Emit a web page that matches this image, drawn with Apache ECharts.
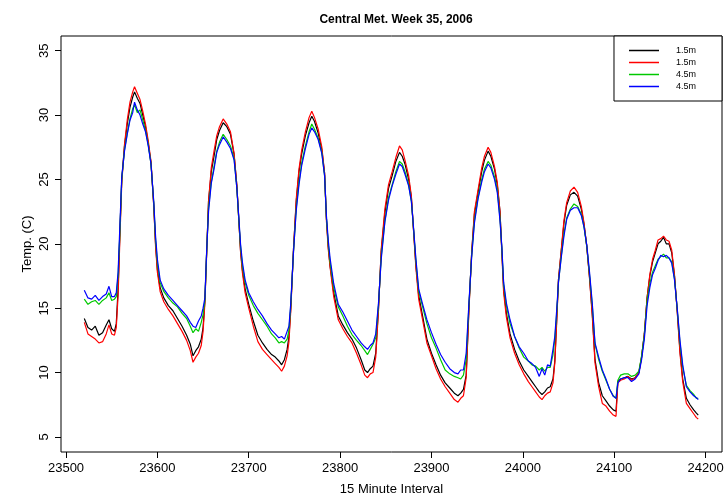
<!DOCTYPE html>
<html>
<head>
<meta charset="utf-8">
<script src="https://cdn.jsdelivr.net/npm/echarts@6/dist/echarts.min.js"></script>
<style>
  html, body { margin: 0; padding: 0; background: #fff; }
  #main { width: 727px; height: 498px; }
</style>
</head>
<body>
<div id="main"></div>
<script>
// 15 minute interval index (x)
var intervals = [
  23520, 23524, 23528, 23532, 23536, 23540, 23544, 23547, 23550, 23553, 23555, 23557, 23559, 23561, 23564, 23567, 23570, 23573, 23575, 23578,
  23581, 23584, 23587, 23590, 23593, 23596, 23598, 23600, 23603, 23607, 23612, 23617, 23622, 23627, 23632, 23636, 23639, 23642, 23645, 23648, 23650,
  23652, 23654, 23656, 23659, 23662, 23665, 23668, 23672, 23676, 23680, 23684, 23687, 23689, 23691, 23693, 23696, 23700, 23705, 23710, 23715,
  23720, 23725, 23729, 23733, 23736, 23739, 23742, 23744,
  23746, 23749, 23752, 23755, 23758, 23762, 23766, 23769, 23772, 23776, 23780, 23783, 23785, 23787, 23789, 23793, 23798, 23803, 23808, 23813,
  23818, 23823, 23827, 23830, 23833, 23836, 23839,
  23842, 23845, 23849, 23853, 23857, 23861, 23865, 23868, 23871, 23875, 23878, 23880, 23883, 23886, 23890, 23895, 23900, 23905, 23910, 23915,
  23920, 23925, 23929, 23932, 23935, 23938,
  23941, 23944, 23947, 23951, 23955, 23958, 23962, 23965, 23969, 23972, 23975, 23977, 23979, 23982, 23986, 23991, 23996, 24001, 24006, 24010,
  24014, 24018, 24021, 24024, 24027, 24030, 24033, 24035,
  24037, 24039, 24042, 24045, 24048, 24052, 24056, 24060, 24064, 24067, 24070, 24073, 24076, 24079, 24083, 24087, 24091, 24095, 24099, 24102,
  24104, 24107,
  24111, 24115, 24119, 24123, 24127, 24130, 24133, 24136, 24139, 24142, 24145, 24148, 24151, 24154, 24157, 24160, 24163, 24166, 24169, 24172,
  24175, 24179, 24183, 24187, 24190, 24192
];

// 1.5m (black)
var temp15a = [
  14.2, 13.5, 13.3, 13.6, 12.9, 13.1, 13.7, 14.1, 13.4, 13.2, 13.8, 16.5, 21.0, 25.0, 27.6, 29.3, 30.6, 31.4, 31.8, 31.3,
  30.9, 30.0, 29.1, 27.8, 26.3, 23.0, 20.0, 18.0, 16.6, 15.8, 15.2, 14.8, 14.2, 13.6, 12.9, 12.2, 11.3, 11.7, 12.0, 12.6, 13.5,
  15.6, 19.5, 23.3, 25.6, 26.8, 28.1, 28.8, 29.4, 29.1, 28.5, 26.9, 24.5, 22.0, 19.5, 18.0, 16.5, 15.3, 14.0, 12.9, 12.3,
  11.8, 11.4, 11.2, 10.9, 10.6, 11.0, 11.8, 12.8,
  15.0, 19.6, 23.3, 25.6, 27.0, 28.4, 29.4, 29.9, 29.5, 28.6, 27.3, 25.5, 22.0, 19.8, 18.3, 16.2, 14.4, 13.7, 13.1, 12.6,
  11.9, 11.0, 10.2, 10.0, 10.3, 10.5, 11.5,
  15.0, 19.4, 22.4, 24.3, 25.3, 26.4, 27.1, 26.8, 26.2, 25.0, 23.6, 21.5, 18.3, 16.0, 14.5, 12.6, 11.5, 10.6, 9.8, 9.2,
  8.8, 8.4, 8.2, 8.4, 8.7, 9.8,
  15.0, 19.3, 22.3, 24.0, 25.6, 26.5, 27.2, 26.8, 25.8, 24.6, 22.5, 19.5, 16.5, 14.6, 13.0, 11.8, 10.9, 10.2, 9.7, 9.3,
  8.9, 8.5, 8.3, 8.5, 8.8, 8.9, 9.5, 10.9,
  14.0, 17.2, 19.4, 21.6, 23.0, 23.8, 24.0, 23.7, 22.7, 21.5, 19.8, 17.4, 14.6, 11.0, 9.2, 8.2, 7.8, 7.4, 7.1, 7.0,
  9.3, 9.5,
  9.6, 9.7, 9.5, 9.6, 10.0, 11.2, 13.0, 15.8, 17.5, 18.6, 19.3, 20.0, 20.2, 20.5, 20.0, 20.0, 19.3, 17.5, 14.8, 11.7,
  9.5, 8.0, 7.5, 7.1, 6.85, 6.7
];

// 1.5m (red)
var temp15b = [
  13.9, 13.0, 12.8, 12.6, 12.3, 12.4, 13.0, 13.7, 13.0, 12.9, 13.5, 16.0, 20.5, 24.7, 27.7, 29.6, 31.0, 31.8, 32.2, 31.7,
  31.2, 30.3, 29.3, 28.0, 26.4, 23.0, 19.8, 17.8, 16.3, 15.5, 14.9, 14.4, 13.8, 13.2, 12.5, 11.7, 10.8, 11.2, 11.5, 12.1, 13.2,
  15.4, 19.3, 23.3, 25.9, 27.2, 28.4, 29.1, 29.7, 29.3, 28.7, 27.0, 24.5, 22.0, 19.4, 17.8, 16.2, 15.0, 13.6, 12.4, 11.8,
  11.4, 11.0, 10.7, 10.4, 10.1, 10.5, 11.3, 12.4,
  14.8, 19.6, 23.5, 25.8, 27.3, 28.7, 29.8, 30.3, 29.8, 28.9, 27.5, 25.5, 21.8, 19.6, 18.2, 15.9, 14.1, 13.4, 12.8, 12.3,
  11.5, 10.6, 9.8, 9.6, 9.9, 10.0, 11.2,
  14.8, 19.6, 22.7, 24.6, 25.6, 26.7, 27.6, 27.3, 26.5, 25.3, 23.7, 21.4, 18.1, 15.7, 14.2, 12.3, 11.3, 10.3, 9.5, 8.9,
  8.4, 7.9, 7.7, 8.0, 8.2, 9.6,
  14.8, 19.3, 22.5, 24.2, 25.9, 26.8, 27.5, 27.1, 26.0, 24.8, 22.5, 19.3, 16.2, 14.3, 12.7, 11.5, 10.6, 9.9, 9.3, 8.9,
  8.5, 8.1, 7.9, 8.2, 8.4, 8.5, 9.2, 10.75,
  13.8, 17.2, 19.5, 21.8, 23.2, 24.1, 24.4, 24.0, 22.9, 21.6, 19.8, 17.3, 14.4, 10.75, 8.9, 7.6, 7.4, 7.0, 6.7, 6.6,
  9.2, 9.4,
  9.5, 9.7, 9.4, 9.6, 10.0, 11.2, 13.0, 15.8, 17.6, 18.8, 19.5, 20.3, 20.4, 20.6, 20.3, 20.2, 19.5, 17.6, 14.7, 11.5,
  9.3, 7.6, 7.2, 6.8, 6.5, 6.4
];

// 4.5m (green)
var temp45a = [
  15.7, 15.3, 15.5, 15.6, 15.3, 15.6, 15.8, 16.2, 15.6, 15.7, 15.9, 17.5, 21.0, 25.0, 27.3, 28.6, 29.7, 30.5, 30.8, 30.2,
  30.4, 29.6, 28.8, 27.7, 26.2, 23.2, 20.3, 18.5, 17.0, 16.3, 15.8, 15.4, 15.1, 14.6, 14.2, 13.6, 13.1, 13.4, 13.2, 13.9, 14.5,
  15.6, 19.5, 22.8, 24.8, 26.0, 27.2, 27.9, 28.5, 28.1, 27.6, 26.6, 24.3, 22.0, 19.8, 18.3, 17.0, 16.0, 15.2, 14.6, 14.1,
  13.6, 13.0, 12.7, 12.3, 12.4, 12.3, 12.6, 13.3,
  15.2, 19.4, 22.8, 24.8, 26.3, 27.6, 28.7, 29.3, 28.9, 28.2, 27.1, 25.3, 22.0, 20.0, 18.6, 16.6, 15.1, 14.4, 13.6, 12.95,
  12.5, 12.1, 11.7, 11.4, 11.8, 12.2, 12.7,
  15.2, 19.0, 21.8, 23.6, 24.6, 25.6, 26.4, 26.2, 25.6, 24.6, 23.3, 21.5, 18.6, 16.3, 15.2, 13.8, 12.7, 11.9, 11.0, 10.2,
  9.9, 9.7, 9.6, 9.5, 9.8, 11.0,
  15.2, 19.1, 21.8, 23.6, 25.0, 25.8, 26.4, 26.1, 25.2, 24.2, 22.0, 19.6, 16.8, 15.2, 13.8, 12.8, 11.9, 11.2, 10.9, 10.6,
  10.5, 10.2, 10.4, 10.1, 10.4, 10.4, 11.4, 12.6,
  14.5, 17.0, 19.0, 20.8, 22.0, 22.7, 23.1, 22.9, 22.3, 21.3, 19.8, 17.6, 15.2, 12.2, 11.0, 10.1, 9.4, 8.7, 8.2, 8.0,
  9.4, 9.8,
  9.9, 9.9, 9.7, 9.8, 10.1, 11.3, 12.9, 15.6, 16.9, 17.8, 18.3, 18.8, 19.0, 19.2, 18.9, 18.9, 18.6, 17.3, 14.9, 12.3,
  10.4, 9.0, 8.6, 8.3, 8.0, 8.0
];

// 4.5m (blue)
var temp45b = [
  16.4, 15.8, 15.7, 16.0, 15.6, 15.9, 16.1, 16.7, 15.9, 15.9, 16.2, 17.8, 21.5, 25.2, 27.2, 28.5, 29.6, 30.2, 31.0, 30.4,
  30.0, 29.3, 28.7, 27.6, 26.2, 23.3, 20.6, 18.8, 17.2, 16.5, 16.0, 15.6, 15.2, 14.8, 14.4, 13.9, 13.6, 13.5, 14.0, 14.4, 15.0,
  15.8, 19.6, 22.5, 24.7, 25.8, 27.1, 27.7, 28.3, 27.9, 27.4, 26.5, 24.3, 22.2, 20.0, 18.6, 17.2, 16.2, 15.5, 14.9, 14.4,
  13.8, 13.3, 13.0, 12.7, 12.8, 12.6, 13.2, 13.6,
  15.4, 19.4, 22.6, 24.6, 26.1, 27.4, 28.5, 29.0, 28.7, 28.1, 27.0, 25.3, 22.2, 20.3, 18.9, 16.9, 15.3, 14.7, 14.0, 13.3,
  12.8, 12.3, 12.0, 11.8, 12.1, 12.3, 13.0,
  15.4, 18.8, 21.7, 23.4, 24.5, 25.4, 26.2, 26.0, 25.4, 24.5, 23.3, 21.6, 18.8, 16.5, 15.4, 14.1, 13.1, 12.2, 11.4, 10.8,
  10.3, 10.0, 9.9, 10.2, 10.2, 11.5,
  15.4, 19.0, 21.6, 23.5, 24.8, 25.6, 26.2, 25.9, 25.0, 24.0, 21.8, 19.8, 17.0, 15.4, 14.1, 12.8, 12.0, 11.5, 10.9, 10.7,
  10.4, 9.7, 10.3, 9.8, 10.6, 10.5, 11.8, 12.8,
  14.8, 17.0, 18.9, 20.6, 21.9, 22.6, 22.8, 22.8, 22.2, 21.3, 19.9, 17.8, 15.4, 12.3, 11.2, 10.2, 9.5, 8.7, 8.15, 8.0,
  9.2, 9.5,
  9.6, 9.6, 9.3, 9.5, 9.9, 11.0, 12.6, 15.2, 16.6, 17.6, 18.1, 18.7, 19.1, 19.0, 19.1, 18.9, 18.5, 17.2, 15.0, 12.5,
  10.6, 8.9, 8.5, 8.2, 8.05, 7.9
];

var xTicks = [23500, 23600, 23700, 23800, 23900, 24000, 24100, 24200];
var yTicks = [5, 10, 15, 20, 25, 30, 35];

function pairs(ys) {
  return intervals.map(function (x, i) { return [x, ys[i]]; });
}

var chart = echarts.init(document.getElementById('main'));
var font = 'Liberation Sans, Arial, sans-serif';

chart.setOption({
  animation: false,
  backgroundColor: '#fff',
  title: {
    text: 'Central Met. Week 35, 2006',
    left: 391,
    top: 9,
    textAlign: 'center',
    textStyle: { fontFamily: font, fontSize: 12, fontWeight: 'bold', color: '#000' }
  },
  legend: {
    orient: 'vertical',
    right: 5,
    top: 36,
    padding: [10, 26, 10, 15],
    itemGap: 3,
    itemWidth: 30,
    itemHeight: 1.5,
    icon: 'rect',
    borderColor: '#000',
    borderWidth: 1,
    backgroundColor: '#fff',
    formatter: function (name) { return name.trim(); },
    textStyle: { fontFamily: font, fontSize: 9, color: '#000', padding: [0, 0, 0, 12] }
  },
  grid: {
    left: 61,
    right: 5,
    top: 36,
    bottom: 46,
    outerBoundsMode: 'none',
    show: true,
    borderColor: '#000',
    borderWidth: 1
  },
  xAxis: {
    type: 'value',
    min: 23494.5,
    max: 24218,
    name: '15 Minute Interval',
    nameLocation: 'middle',
    nameGap: 31,
    nameTextStyle: { fontFamily: font, fontSize: 13, color: '#000' },
    axisLine: { show: false },
    axisTick: { show: true, customValues: xTicks, length: 6, lineStyle: { color: '#000' } },
    axisLabel: {
      customValues: xTicks, margin: 10, fontFamily: font, fontSize: 13, color: '#000',
      formatter: function (v) { return String(v); }
    },
    splitLine: { show: false }
  },
  yAxis: {
    type: 'value',
    min: 3.83,
    max: 36.14,
    name: 'Temp. (C)',
    nameLocation: 'middle',
    nameMoveOverlap: false,
    nameGap: 27,
    nameTextStyle: { fontFamily: font, fontSize: 13, color: '#000' },
    axisLine: { show: false },
    axisTick: { show: true, customValues: yTicks, length: 6, lineStyle: { color: '#000' } },
    axisLabel: { customValues: yTicks, rotate: 90, margin: 10, fontFamily: font, fontSize: 13, color: '#000' },
    splitLine: { show: false }
  },
  series: [
    { name: '1.5m', type: 'line', showSymbol: false, lineStyle: { width: 1.2, color: '#000000' }, itemStyle: { color: '#000000' }, data: pairs(temp15a) },
    { name: '1.5m ', type: 'line', showSymbol: false, lineStyle: { width: 1.2, color: '#ff0000' }, itemStyle: { color: '#ff0000' }, data: pairs(temp15b) },
    { name: '4.5m', type: 'line', showSymbol: false, lineStyle: { width: 1.2, color: '#00c800' }, itemStyle: { color: '#00c800' }, data: pairs(temp45a) },
    { name: '4.5m ', type: 'line', showSymbol: false, lineStyle: { width: 1.2, color: '#0000ff' }, itemStyle: { color: '#0000ff' }, data: pairs(temp45b) }
  ]
});
</script>
</body>
</html>
